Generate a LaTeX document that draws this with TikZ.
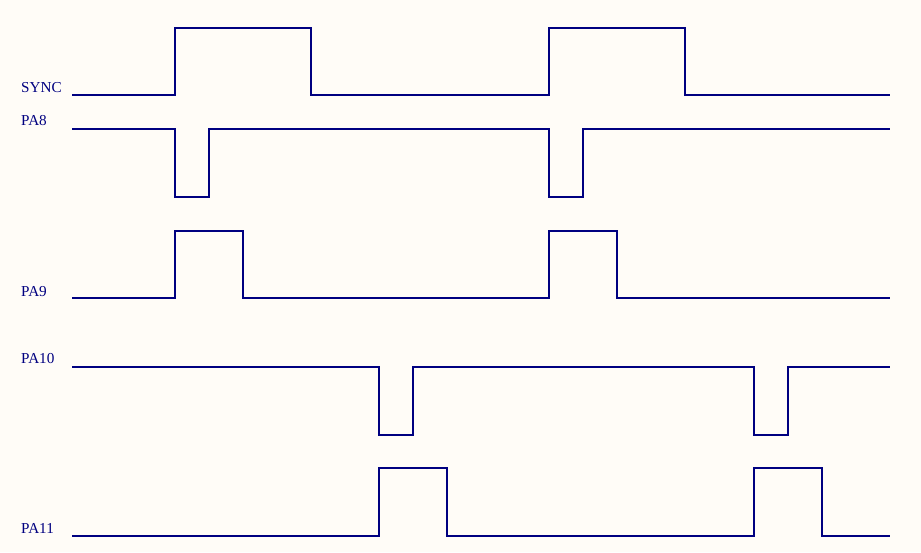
\documentclass[tikz,border=0pt]{standalone}
\usepackage{fontspec}
\setmainfont{Liberation Serif}
\definecolor{bg}{HTML}{FFFCF7}
\definecolor{sig}{HTML}{000080}
\begin{document}
\begin{tikzpicture}[x=1pt,y=-1pt,
  wave/.style={draw=sig,line width=2.2pt,line join=miter},
  lbl/.style={anchor=base west,inner sep=0pt,text=sig,font=\fontsize{15.2}{17}\selectfont}]
\fill[bg] (0,0) rectangle (921,552);
\useasboundingbox (0,0) rectangle (921,552);
% labels
\node[lbl] (lsync) at (21,92.3) {SYNC};
\node[lbl] (lpa8) at (21,125.7) {PA8};
\node[lbl] (lpa9) at (21,296) {PA9};
\node[lbl] (lpa10) at (21,363.3) {PA10};
\node[lbl] (lpa11) at (21,533.3) {PA11};
% SYNC
\draw[wave] (72,95) -- (175,95) -- (175,28) -- (311,28) -- (311,95) -- (549,95) -- (549,28) -- (685,28) -- (685,95) -- (890,95);
% PA8
\draw[wave] (72,129) -- (175,129) -- (175,197) -- (209,197) -- (209,129) -- (549,129) -- (549,197) -- (583,197) -- (583,129) -- (890,129);
% PA9
\draw[wave] (72,298) -- (175,298) -- (175,231) -- (243,231) -- (243,298) -- (549,298) -- (549,231) -- (617,231) -- (617,298) -- (890,298);
% PA10
\draw[wave] (72,367) -- (379,367) -- (379,435) -- (413,435) -- (413,367) -- (754,367) -- (754,435) -- (788,435) -- (788,367) -- (890,367);
% PA11
\draw[wave] (72,536) -- (379,536) -- (379,468) -- (447,468) -- (447,536) -- (754,536) -- (754,468) -- (822,468) -- (822,536) -- (890,536);
\end{tikzpicture}
\end{document}
